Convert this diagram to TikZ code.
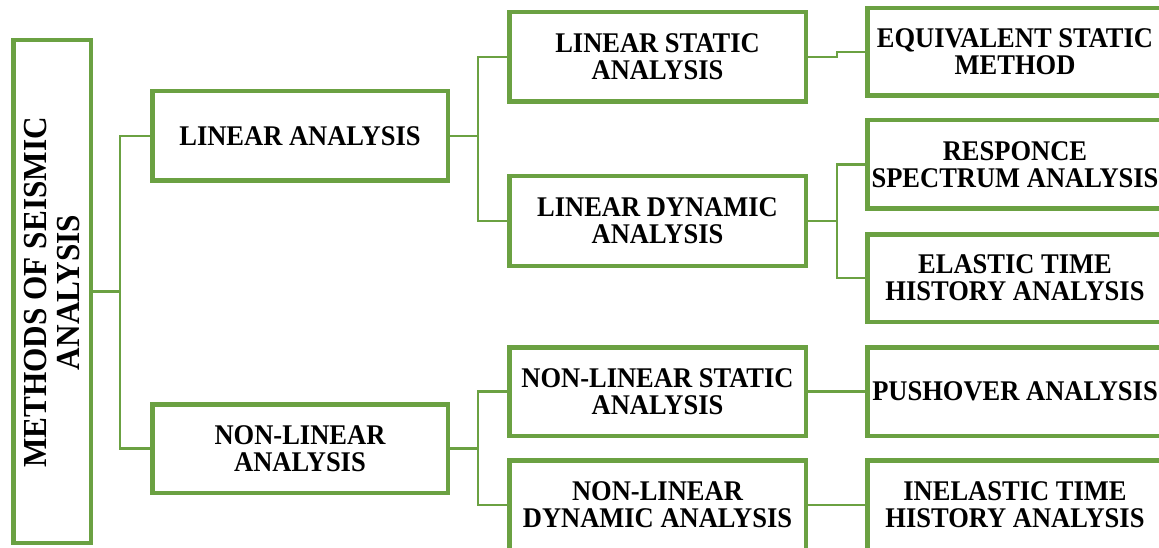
\documentclass[tikz,border=0pt]{standalone}
\usepackage{fontspec}
\setmainfont{Liberation Serif}[FakeStretch=0.93]
\definecolor{boxgreen}{RGB}{107,161,66}
\begin{document}
\begin{tikzpicture}[x=1pt,y=-1pt,
  box/.style={draw=boxgreen, line width=4.5pt, fill=white, inner sep=0pt,
    align=center, font=\fontsize{28.5}{27.3}\selectfont\bfseries},
  conn/.style={draw=boxgreen, line width=2.5pt}]
\useasboundingbox (0,0) rectangle (1159,548);
\clip (0,0) rectangle (1159,548);
% main box
\node[box, minimum width=77.5pt, minimum height=502.5pt] (M) at (52,291.5) {};
\node[rotate=90, align=center, inner sep=0pt, font=\fontsize{33.6}{33}\selectfont\bfseries] (Mt) at (52,292.5) {METHODS OF SEISMIC\\ANALYSIS};
% level 1
\node[box, minimum width=295.5pt, minimum height=89.5pt] (LA) at (300,136) {LINEAR ANALYSIS};
\node[box, minimum width=295.5pt, minimum height=88.5pt] (NLA) at (300,448.5) {NON-LINEAR\\ANALYSIS};
% level 2
\node[box, minimum width=296.5pt, minimum height=89.5pt] (LS) at (657.5,57) {LINEAR STATIC\\ANALYSIS};
\node[box, minimum width=296.5pt, minimum height=89.5pt] (LD) at (657.5,221) {LINEAR DYNAMIC\\ANALYSIS};
\node[box, minimum width=296.5pt, minimum height=88.5pt] (NLS) at (657.5,391.5) {NON-LINEAR STATIC\\ANALYSIS};
\node[box, minimum width=296.5pt, minimum height=89.5pt] (NLD) at (657.5,505) {NON-LINEAR\\DYNAMIC ANALYSIS};
% level 3
\node[box, minimum width=295.5pt, minimum height=87.5pt] (EQ) at (1015,52) {EQUIVALENT STATIC\\METHOD};
\node[box, minimum width=295.5pt, minimum height=88.5pt] (RS) at (1015,164.5) {RESPONCE\\SPECTRUM ANALYSIS};
\node[box, minimum width=295.5pt, minimum height=87.5pt] (ET) at (1015,278) {ELASTIC TIME\\HISTORY ANALYSIS};
\node[box, minimum width=295.5pt, minimum height=88.5pt] (PO) at (1015,391.5) {PUSHOVER ANALYSIS};
\node[box, minimum width=295.5pt, minimum height=89.5pt] (IT) at (1015,505) {INELASTIC TIME\\HISTORY ANALYSIS};
% junctions
\coordinate (j1) at (120,291.5);
\coordinate (j2) at (478,136);
\coordinate (j3) at (837,221);
\coordinate (j4) at (478,448.5);
% connectors
\draw[conn] (M.east) -- (j1);
\draw[conn] (LA.west) -| (j1) |- (NLA.west);
\draw[conn] (LA.east) -- (j2);
\draw[conn] (LS.west) -| (j2) |- (LD.west);
\draw[conn] (LS.east) -- ++(29,0) |- (EQ.west);
\draw[conn] (LD.east) -- (j3);
\draw[conn] (RS.west) -| (j3) |- (ET.west);
\draw[conn] (NLA.east) -- (j4);
\draw[conn] (NLS.west) -| (j4) |- (NLD.west);
\draw[conn] (NLS.east) -- (PO.west);
\draw[conn] (NLD.east) -- (IT.west);
\end{tikzpicture}
\end{document}
